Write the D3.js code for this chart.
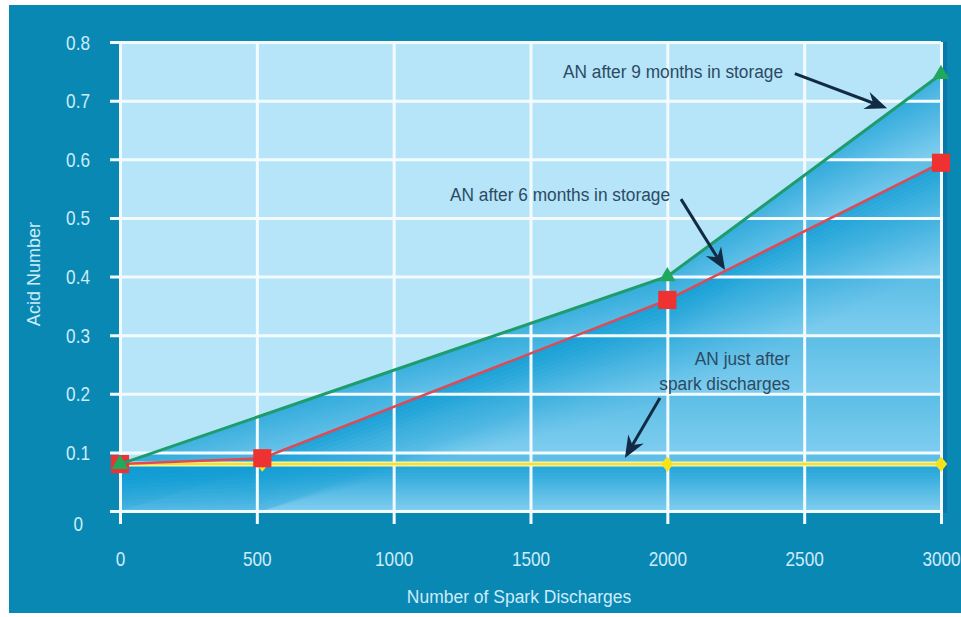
<!DOCTYPE html>
<html>
<head>
<meta charset="utf-8">
<script src="https://cdn.jsdelivr.net/npm/d3@7"></script>
<style>
  html, body { margin: 0; padding: 0; background: #ffffff; }
  svg { display: block; }
  text { font-family: "Liberation Sans", Arial, sans-serif; }
</style>
</head>
<body>
<svg id="chart" width="961" height="617"></svg>
<script>
// Acid number vs. number of spark discharges
const xTicks = [0, 500, 1000, 1500, 2000, 2500, 3000];
const yTicks = [0, 0.1, 0.2, 0.3, 0.4, 0.5, 0.6, 0.7, 0.8];
const yTickLabels = ["0", "0.1", "0.2", "0.3", "0.4", "0.5", "0.6", "0.7", "0.8"];

const justAfterX = [0, 520, 2000, 3000];
const justAfterY = [0.08, 0.08, 0.08, 0.08];
const sixMonthsX = [0, 520, 2000, 3000];
const sixMonthsY = [0.08, 0.09, 0.36, 0.594];
const nineMonthsX = [0, 2000, 3000];
const nineMonthsY = [0.08, 0.40, 0.745];

const xTitle = "Number of Spark Discharges";
const yTitle = "Acid Number";

// callouts: text anchor and arrow in data units
const callouts = [
  { lines: ["AN after 9 months in storage"], tx: 1619, ty: [0.7475], anchor: "start",
    from: [2466, 0.746], to: [2803, 0.687] },
  { lines: ["AN after 6 months in storage"], tx: 1206, ty: [0.537], anchor: "start",
    from: [2050, 0.532], to: [2211, 0.411] },
  { lines: ["AN just after", "spark discharges"], tx: 2448, ty: [0.2576, 0.215], anchor: "end",
    from: [1973, 0.1927], to: [1845, 0.0904] }
];

const svg = d3.select("#chart");
const W = 961, H = 617;

// squeeze text horizontally to get a condensed face
function narrow(sel, sx) {
  sel.each(function () {
    const t = d3.select(this);
    const px = +t.attr("x") || 0;
    t.attr("x", 0).attr("transform", `translate(${px},0) scale(${sx},1)`);
  });
}

// frame
svg.append("rect").attr("x", 9).attr("y", 5).attr("width", W - 9).attr("height", H - 9)
  .attr("fill", "#0a88b4");

const x = d3.scaleLinear().domain([0, 3000]).range([120, 941]);
const y = d3.scaleLinear().domain([0, 0.8]).range([511, 42]);

const zip = (xs, ys) => xs.map((v, i) => ({ x: v, y: ys[i] }));
const nine = zip(nineMonthsX, nineMonthsY);
const six = zip(sixMonthsX, sixMonthsY);
const just = zip(justAfterX, justAfterY);

// darker strip right of the plot
svg.append("rect").attr("x", x(3000) + 1).attr("y", y(0.8)).attr("width", 5)
  .attr("height", y(0) - y(0.8) + 2).attr("fill", "#0879a6");

// plot background
svg.append("rect")
  .attr("x", x(0)).attr("y", y(0.8))
  .attr("width", x(3000) - x(0)).attr("height", y(0) - y(0.8))
  .attr("fill", "#b6e4f8");

const defs = svg.append("defs");

// region under the 9-month curve
const underNine = d3.area().x(d => x(d.x)).y0(y(0)).y1(d => y(d.y));
defs.append("clipPath").attr("id", "under-nine")
  .append("path").attr("d", underNine(nine));

const fillG = svg.append("g").attr("clip-path", "url(#under-nine)");
fillG.append("path").attr("d", underNine(nine)).attr("fill", "#7ecdef");

// soft band shading inside each grid row
const bandGrad = defs.append("linearGradient").attr("id", "band-grad")
  .attr("x1", 0).attr("y1", 0).attr("x2", 0).attr("y2", 1);
bandGrad.append("stop").attr("offset", "0%").attr("stop-color", "#0b98d0").attr("stop-opacity", 0.3);
bandGrad.append("stop").attr("offset", "100%").attr("stop-color", "#0b98d0").attr("stop-opacity", 0);
yTicks.slice(0, -1).forEach((t, i) => {
  fillG.append("rect")
    .attr("x", x(0)).attr("y", y(yTicks[i + 1]))
    .attr("width", x(3000) - x(0)).attr("height", y(t) - y(yTicks[i + 1]))
    .attr("fill", "url(#band-grad)");
});

// shading that fades downward from a curve
function shadeUnder(data, depth, alpha, steps) {
  for (let k = 0; k < steps; k++) {
    const a = d3.area()
      .x(d => x(d.x))
      .y1(d => y(Math.max(0, d.y - depth * k / steps)))
      .y0(d => y(Math.max(0, d.y - depth * (k + 1) / steps)));
    fillG.append("path").attr("d", a(data))
      .attr("fill", "#0a9ad2")
      .attr("fill-opacity", alpha * Math.pow(1 - k / steps, 1.2));
  }
}
shadeUnder(nine, 0.12, 0.5, 20);
shadeUnder(six, 0.17, 0.75, 24);
shadeUnder(just, 0.075, 0.75, 14);

// gridlines + axes
const yAxis = d3.axisLeft(y).tickValues(yTicks)
  .tickFormat((d, i) => yTickLabels[i])
  .tickSizeInner(-(x(3000) - x(0) + 10)).tickSizeOuter(0).tickPadding(20);
const yG = svg.append("g").attr("transform", `translate(${x(0) - 10},0)`).call(yAxis);
yG.select(".domain").remove();
yG.selectAll(".tick line").attr("stroke", "#f3fbff").attr("stroke-width", 3);
yG.selectAll(".tick text").attr("fill", "#cdecf8").attr("font-size", 20)
  .attr("font-family", "Liberation Sans, Arial, sans-serif")
  .attr("dy", d => d === 0 ? "1.0em" : "0.35em")
  .attr("x", d => d === 0 ? -27 : -20);
narrow(yG.selectAll(".tick text"), 0.86);

const xAxis = d3.axisBottom(x).tickValues(xTicks).tickFormat(d3.format("d"))
  .tickSizeInner(y(0) - y(0.8) + 13).tickSizeOuter(0).tickPadding(28);
const xG = svg.append("g").attr("transform", `translate(0,${y(0.8)})`).call(xAxis);
xG.select(".domain").remove();
xG.selectAll(".tick line").attr("stroke", "#f3fbff").attr("stroke-width", 3);
xG.selectAll(".tick text").attr("fill", "#cdecf8").attr("font-size", 20)
  .attr("font-family", "Liberation Sans, Arial, sans-serif");
narrow(xG.selectAll(".tick text"), 0.86);

// axis titles
const xt = svg.append("text").attr("x", 519).attr("y", 598)
  .attr("text-anchor", "middle").attr("dominant-baseline", "middle")
  .attr("fill", "#cdecf8").attr("font-size", 19).text(xTitle);
narrow(xt, 0.92);
svg.append("text").attr("transform", "translate(35,274) rotate(-90) scale(0.95,1)")
  .attr("text-anchor", "middle").attr("dominant-baseline", "middle")
  .attr("fill", "#cdecf8").attr("font-size", 19).text(yTitle);

// custom square-ish diamond
const diamondType = {
  draw(ctx, size) {
    const r = Math.sqrt(size / 2);
    ctx.moveTo(0, -r * 1.1);
    ctx.lineTo(r * 0.9, 0);
    ctx.lineTo(0, r * 1.1);
    ctx.lineTo(-r * 0.9, 0);
    ctx.closePath();
  }
};

// lines
const line = d3.line().x(d => x(d.x)).y(d => y(d.y));
svg.append("path").attr("d", line(just)).attr("fill", "none")
  .attr("stroke", "#fbf6b8").attr("stroke-width", 5);
svg.append("path").attr("d", line(just)).attr("fill", "none")
  .attr("stroke", "#eee235").attr("stroke-width", 2.5);
svg.selectAll(".m-just").data(just).join("path")
  .attr("transform", d => `translate(${x(d.x)},${y(d.y)})`)
  .attr("d", d3.symbol().type(diamondType).size(95)())
  .attr("fill", "#f8e21c");

svg.append("path").attr("d", line(six)).attr("fill", "none")
  .attr("stroke", "#de4a55").attr("stroke-width", 2.5);
svg.selectAll(".m-six").data(six).join("path")
  .attr("transform", d => `translate(${x(d.x)},${y(d.y)})`)
  .attr("d", d3.symbol().type(d3.symbolSquare).size(330)())
  .attr("fill", "#ee3131");

svg.append("path").attr("d", line(nine)).attr("fill", "none")
  .attr("stroke", "#1d9c6c").attr("stroke-width", 3);
svg.selectAll(".m-nine").data(nine).join("path")
  .attr("transform", d => `translate(${x(d.x)},${y(d.y)})`)
  .attr("d", d3.symbol().type(d3.symbolTriangle).size(120)())
  .attr("fill", "#21a85c");

// callouts
const ink = "#112b44";
callouts.forEach(c => {
  c.lines.forEach((t, i) => {
    const tx = svg.append("text").attr("x", x(c.tx)).attr("y", y(c.ty[i]))
      .attr("text-anchor", c.anchor).attr("dominant-baseline", "middle")
      .attr("fill", "#2c4b63").attr("font-size", 19).text(t);
    narrow(tx, 0.91);
  });
  const x1 = x(c.from[0]), y1 = y(c.from[1]);
  const x2 = x(c.to[0]), y2 = y(c.to[1]);
  const ang = Math.atan2(y2 - y1, x2 - x1);
  const L = 22, Wd = 9, notch = 15;
  const ux = Math.cos(ang), uy = Math.sin(ang);
  const px = -uy, py = ux;
  svg.append("line").attr("x1", x1).attr("y1", y1)
    .attr("x2", x2 - ux * notch).attr("y2", y2 - uy * notch)
    .attr("stroke", ink).attr("stroke-width", 3);
  const pts = [
    [x2, y2],
    [x2 - ux * L + px * Wd, y2 - uy * L + py * Wd],
    [x2 - ux * notch, y2 - uy * notch],
    [x2 - ux * L - px * Wd, y2 - uy * L - py * Wd]
  ];
  svg.append("path").attr("d", "M" + pts.map(p => p.join(",")).join("L") + "Z")
    .attr("fill", ink);
});
</script>
</body>
</html>
